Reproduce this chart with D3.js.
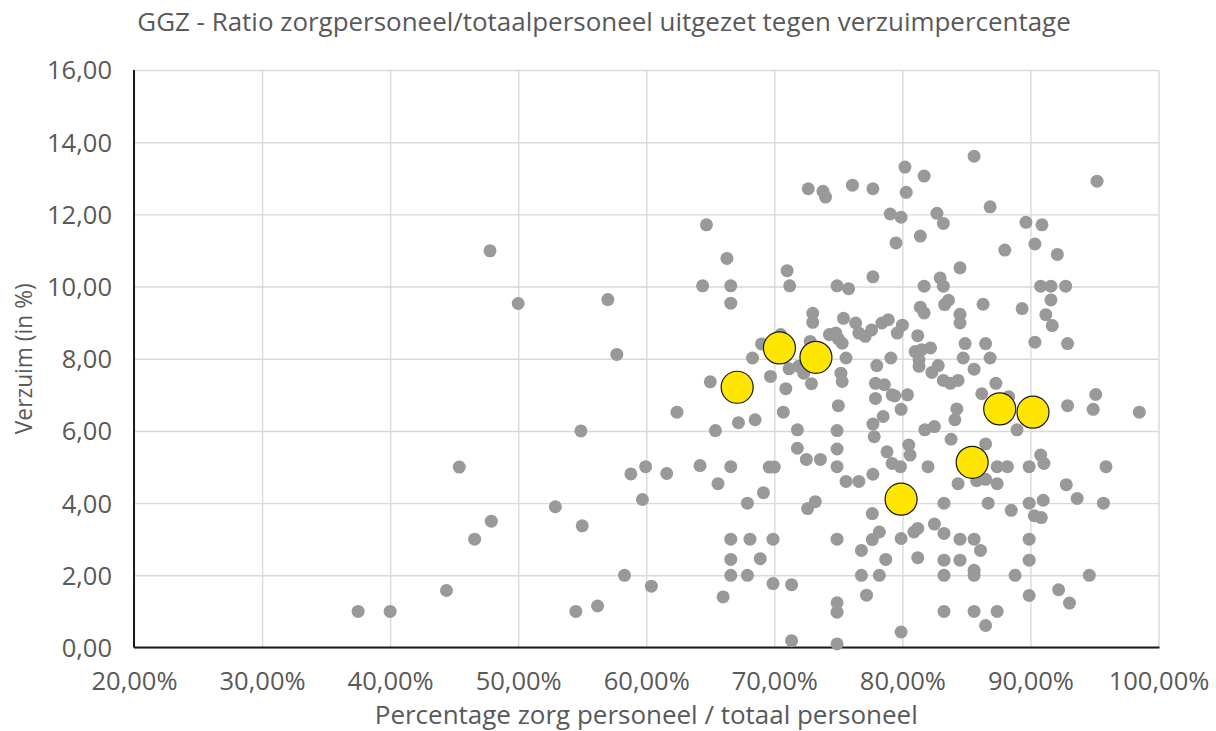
<!DOCTYPE html>
<html>
<head>
<meta charset="utf-8">
<script src="https://cdn.jsdelivr.net/npm/d3@7"></script>
<style>
  body { margin: 0; background: #ffffff; }
  svg { display: block; }
  text { font-family: "Open Sans", "Liberation Sans", Arial, sans-serif; fill: #595959; }
</style>
</head>
<body>
<svg id="chart" width="1216" height="731"></svg>
<script>
// tick values
var xTicks = [20, 30, 40, 50, 60, 70, 80, 90, 100];
var yTicks = [0, 2, 4, 6, 8, 10, 12, 14, 16];

// all organisations (percentage zorg personeel, verzuim %)
var allX = [37.5, 40.0, 44.4, 45.4, 46.6, 47.9, 47.8, 50.0, 52.9, 55.0, 54.5, 56.2, 54.9, 57.0, 57.7, 58.3, 58.8, 59.7, 59.95, 60.4,
  61.6, 62.4, 64.2, 64.4, 64.7, 65.0, 65.4, 65.6, 66.0, 66.3, 66.6, 66.6, 66.6, 66.6, 66.6, 66.6, 67.2, 67.9, 67.9, 68.1,
  68.3, 68.5, 68.9, 69.0, 69.15, 69.6, 70.0, 69.7, 69.9, 69.9, 70.5, 70.7, 70.9, 71.0, 71.2, 71.15, 71.35, 71.35, 71.8, 71.8,
  71.9, 72.3, 72.5, 72.6, 72.65, 72.8, 72.9, 73.0, 73.0, 73.2, 73.6, 73.8, 74.0, 74.3, 74.8, 74.9, 74.9, 74.9, 74.9, 74.9,
  74.9, 74.9, 74.9, 75.0, 75.0, 75.3, 75.2, 75.3, 75.4, 75.6, 75.6, 75.8, 76.1, 76.35, 76.6, 76.6, 76.8, 76.8, 77.1, 77.2,
  77.6, 77.7, 77.7, 77.7, 77.7, 77.65, 77.65, 77.8, 77.9, 77.9, 78.0, 78.2, 78.2, 78.4, 78.5, 78.6, 78.7, 78.8, 78.9, 79.05,
  79.1, 79.2, 79.2, 79.5, 79.4, 79.6, 79.9, 79.9, 79.9, 79.9, 79.85, 80.0, 80.2, 80.3, 80.4, 80.5, 80.6, 80.9, 81.0, 81.2,
  81.2, 81.2, 81.3, 81.3, 81.4, 81.4, 81.5, 81.7, 81.7, 81.7, 81.75, 82.0, 82.2, 82.3, 82.5, 82.5, 82.7, 82.8, 82.95, 83.2,
  83.2, 83.2, 83.25, 83.25, 83.25, 83.25, 83.25, 83.3, 83.6, 83.75, 83.8, 84.1, 84.25, 84.35, 84.35, 84.5, 84.5, 84.5, 84.5, 84.5,
  84.75, 84.9, 85.6, 85.6, 85.6, 85.6, 85.6, 85.6, 85.8, 86.1, 86.2, 86.3, 86.5, 86.5, 86.5, 86.5, 86.7, 86.85, 86.85, 87.3,
  87.4, 87.4, 87.4, 88.0, 88.2, 88.3, 88.5, 88.8, 88.95, 89.35, 89.65, 89.9, 89.9, 89.9, 89.9, 89.9, 90.3, 90.35, 90.35, 90.8,
  90.8, 90.85, 90.9, 91.0, 91.05, 91.2, 91.6, 91.6, 91.7, 92.1, 92.2, 92.75, 92.8, 92.9, 92.9, 93.05, 93.65, 94.6, 94.9, 95.1,
  95.2, 95.7, 95.9, 98.5];
var allY = [1.0, 1.0, 1.58, 5.0, 3.0, 3.5, 10.99, 9.53, 3.9, 3.37, 1.0, 1.15, 6.0, 9.64, 8.12, 2.0, 4.81, 4.1, 5.01, 1.7,
  4.82, 6.52, 5.04, 10.02, 11.71, 7.36, 6.01, 4.54, 1.4, 10.78, 10.02, 9.54, 5.01, 3.0, 2.44, 2.0, 6.23, 4.0, 2.0, 3.0,
  8.02, 6.31, 2.46, 8.41, 4.29, 5.0, 5.0, 7.51, 3.0, 1.77, 8.67, 6.52, 7.17, 10.44, 10.02, 7.72, 1.74, 0.19, 6.03, 5.52,
  7.79, 7.6, 5.21, 3.85, 12.71, 8.48, 7.31, 9.26, 9.01, 4.04, 5.21, 12.64, 12.48, 8.67, 8.71, 10.02, 6.01, 5.5, 5.01, 3.0,
  1.24, 0.98, 0.1, 6.7, 8.55, 8.43, 7.6, 7.37, 9.12, 8.02, 4.6, 9.94, 12.81, 8.99, 8.71, 4.6, 2.69, 2.0, 8.62, 1.45,
  8.8, 12.71, 10.27, 6.19, 4.8, 3.71, 2.99, 5.84, 7.32, 6.9, 7.81, 3.2, 2.0, 8.99, 6.4, 7.28, 2.44, 5.42, 9.08, 12.01,
  8.02, 7.0, 5.1, 11.21, 6.97, 8.71, 11.92, 3.02, 0.43, 6.6, 5.01, 8.93, 13.31, 12.61, 7.0, 5.61, 5.33, 3.2, 8.2, 8.64,
  3.3, 2.49, 7.97, 7.79, 11.4, 9.43, 8.25, 13.06, 10.01, 9.27, 6.03, 5.01, 8.3, 7.62, 6.12, 3.42, 12.03, 7.81, 10.24, 11.75,
  10.01, 7.4, 4.0, 3.16, 2.42, 2.0, 1.0, 9.5, 9.62, 7.32, 5.77, 6.31, 6.61, 7.4, 4.54, 10.52, 9.23, 8.99, 3.0, 2.42,
  8.02, 8.42, 13.61, 7.71, 3.0, 2.14, 2.0, 1.0, 4.62, 2.69, 7.03, 9.51, 8.42, 5.64, 4.66, 0.61, 4.0, 12.21, 8.02, 7.32,
  5.01, 4.54, 1.0, 11.01, 5.01, 6.95, 3.8, 2.0, 6.03, 9.39, 11.78, 5.01, 4.0, 3.0, 2.42, 1.44, 3.65, 11.18, 8.46, 10.01,
  5.33, 3.6, 11.71, 4.08, 5.1, 9.22, 10.01, 9.63, 8.92, 10.89, 1.6, 10.01, 4.51, 8.42, 6.7, 1.23, 4.13, 2.0, 6.6, 7.01,
  12.92, 4.0, 5.01, 6.52];

// highlighted organisations
var highX = [67.1, 70.4, 73.25, 79.9, 85.45, 87.6, 90.2];
var highY = [7.21, 8.3, 8.04, 4.11, 5.13, 6.61, 6.52];

var titleText = "GGZ - Ratio zorgpersoneel/totaalpersoneel uitgezet tegen verzuimpercentage";
var xTitle = "Percentage zorg personeel / totaal personeel";
var yTitle = "Verzuim (in %)";

// SVG + plot area
var svg = d3.select("#chart");
var plotLeft = 134, plotRight = 1158.5, plotTop = 70, plotBottom = 647.5;

var nl = d3.formatLocale({decimal: ",", thousands: ".", grouping: [3], currency: ["€", ""]});
var fmt2 = nl.format(".2f");

var xScale = d3.scaleLinear().domain([20, 100]).range([plotLeft, plotRight]);
var yScale = d3.scaleLinear().domain([0, 16]).range([plotBottom, plotTop]);

// fit a text's font size to a target width
function fitText(sel, width) {
  sel.style("font-size", "20px");
  var w = sel.node().getComputedTextLength();
  var size = 20 * width / w;
  sel.style("font-size", size + "px");
  return size;
}

// gridlines via axes
var xGrid = svg.append("g")
  .attr("transform", "translate(0," + plotBottom + ")")
  .call(d3.axisBottom(xScale).tickValues(xTicks).tickSize(-(plotBottom - plotTop)).tickFormat(""));
var yGrid = svg.append("g")
  .attr("transform", "translate(" + plotLeft + ",0)")
  .call(d3.axisLeft(yScale).tickValues(yTicks).tickSize(-(plotRight - plotLeft)).tickFormat(""));
[xGrid, yGrid].forEach(g => {
  g.select(".domain").remove();
  g.selectAll(".tick line").attr("stroke", "#d9d9d9").attr("stroke-width", 1.4);
});

// tick labels
var xAxis = svg.append("g")
  .attr("transform", "translate(0," + plotBottom + ")")
  .call(d3.axisBottom(xScale).tickValues(xTicks).tickSize(0).tickPadding(24)
    .tickFormat(d => fmt2(d) + "%"));
var yAxis = svg.append("g")
  .attr("transform", "translate(" + plotLeft + ",0)")
  .call(d3.axisLeft(yScale).tickValues(yTicks).tickSize(0).tickPadding(22)
    .tickFormat(d => fmt2(d)));
[xAxis, yAxis].forEach(g => {
  g.select(".domain").remove();
  g.selectAll("text")
    .attr("fill", "#595959")
    .style("font-family", '"Open Sans", "Liberation Sans", Arial, sans-serif');
});
var tickSize = fitText(yAxis.select(".tick:last-of-type text"), 65);
xAxis.selectAll("text").style("font-size", tickSize + "px").attr("dy", "0.71em");
yAxis.selectAll("text").style("font-size", tickSize + "px").attr("dy", "0.35em");

// axis lines
svg.append("line")
  .attr("x1", plotLeft).attr("x2", plotLeft).attr("y1", plotTop).attr("y2", plotBottom)
  .attr("stroke", "#1a1a1a").attr("stroke-width", 2);
svg.append("line")
  .attr("x1", plotLeft).attr("x2", plotRight + 1).attr("y1", plotBottom).attr("y2", plotBottom)
  .attr("stroke", "#1a1a1a").attr("stroke-width", 2);

// gray points
var allData = allX.map((x, i) => ({x: x, y: allY[i]}));
svg.append("g").selectAll("circle")
  .data(allData)
  .enter().append("circle")
  .attr("cx", d => xScale(d.x))
  .attr("cy", d => yScale(d.y))
  .attr("r", 6.5)
  .attr("fill", "#999999");

// highlighted points
var highData = highX.map((x, i) => ({x: x, y: highY[i]}));
svg.append("g").selectAll("circle")
  .data(highData)
  .enter().append("circle")
  .attr("cx", d => xScale(d.x))
  .attr("cy", d => yScale(d.y))
  .attr("r", 16)
  .attr("fill", "#ffe600")
  .attr("stroke", "#1a1a1a")
  .attr("stroke-width", 1.2);

// titles
var t1 = svg.append("text")
  .attr("x", 604).attr("y", 31)
  .attr("text-anchor", "middle")
  .text(titleText);
fitText(t1, 934);

var t2 = svg.append("text")
  .attr("x", (plotLeft + plotRight) / 2).attr("y", 724)
  .attr("text-anchor", "middle")
  .text(xTitle);
fitText(t2, 543);

var t3 = svg.append("text")
  .attr("transform", "translate(32," + ((plotTop + plotBottom) / 2) + ") rotate(-90)")
  .attr("text-anchor", "middle")
  .text(yTitle);
fitText(t3, 151);
</script>
</body>
</html>
